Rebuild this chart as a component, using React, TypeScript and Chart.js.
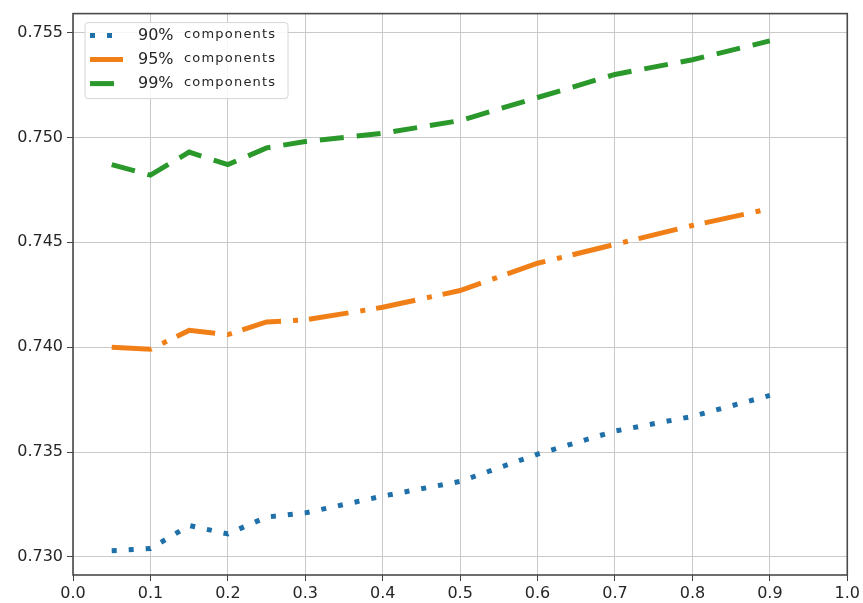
import React, { useEffect, useRef } from "react";
import { Chart, registerables } from "chart.js";

Chart.register(...registerables);

const xValues = [0.05, 0.1, 0.15, 0.2, 0.25, 0.3, 0.4, 0.5, 0.6, 0.7, 0.8, 0.9];
const series90 = [0.7303, 0.7304, 0.7315, 0.7311, 0.7319, 0.7321, 0.7329, 0.7336, 0.7349, 0.736, 0.7367, 0.7377];
const series95 = [0.74, 0.7399, 0.7408, 0.7406, 0.7412, 0.7413, 0.7419, 0.7427, 0.744, 0.7449, 0.7458, 0.7466];
const series99 = [0.7487, 0.7482, 0.7493, 0.7487, 0.7495, 0.7498, 0.7502, 0.7508, 0.7519, 0.753, 0.7537, 0.7546];
const seriesPercents = ["90%", "95%", "99%"];
const legendSuffix = "components";
const xTicks = [0.0, 0.1, 0.2, 0.3, 0.4, 0.5, 0.6, 0.7, 0.8, 0.9, 1.0];
const yTicks = [0.73, 0.735, 0.74, 0.745, 0.75, 0.755];

const COLORS = ["#1f6fa8", "#f07f17", "#2a982a"];
const DASHES = [[5, 12], [40, 12, 5, 11], [24, 13]];
const FONT = "'DejaVu Sans', sans-serif";

const framePlugin = {
  id: "frame",
  afterDraw(chart: any) {
    const { ctx, chartArea: a } = chart;
    ctx.save();
    ctx.strokeStyle = "#4a4a4a";
    ctx.lineWidth = 1.6;
    ctx.setLineDash([]);
    ctx.strokeRect(a.left, a.top, a.right - a.left, a.bottom - a.top);
    ctx.restore();
  },
};

const legendPlugin = {
  id: "customLegend",
  afterDraw(chart: any) {
    const { ctx, chartArea: a } = chart;
    const bx = a.left + 12;
    const by = a.top + 9;
    const bw = 203;
    const bh = 76;
    ctx.save();
    ctx.fillStyle = "rgba(255,255,255,0.85)";
    ctx.strokeStyle = "#d6d6d6";
    ctx.lineWidth = 1;
    ctx.beginPath();
    (ctx as any).roundRect(bx, by, bw, bh, 3);
    ctx.fill();
    ctx.stroke();
    chart.data.datasets.forEach((ds: any, i: number) => {
      const ry = by + 13 + i * 24;
      ctx.strokeStyle = ds.borderColor;
      ctx.lineWidth = 5;
      ctx.lineCap = "butt";
      ctx.setLineDash(ds.borderDash);
      ctx.beginPath();
      ctx.moveTo(bx + 5, ry);
      ctx.lineTo(bx + 38, ry);
      ctx.stroke();
      ctx.setLineDash([]);
      ctx.fillStyle = "#262626";
      ctx.textBaseline = "middle";
      ctx.textAlign = "left";
      ctx.font = `16px ${FONT}`;
      (ctx as any).letterSpacing = "0px";
      ctx.fillText(seriesPercents[i], bx + 53, ry);
      ctx.font = `13px ${FONT}`;
      (ctx as any).letterSpacing = "1.2px";
      ctx.fillText(legendSuffix, bx + 99, ry - 1);
      (ctx as any).letterSpacing = "0px";
    });
    ctx.restore();
  },
};

export default function App() {
  const ref = useRef<HTMLCanvasElement | null>(null);
  useEffect(() => {
    if (!ref.current) return;
    const allSeries = [series90, series95, series99];
    const chart = new Chart(ref.current, {
      type: "line",
      data: {
        datasets: allSeries.map((s, i) => ({
          label: `${seriesPercents[i]} ${legendSuffix}`,
          data: s.map((y, j) => ({ x: xValues[j], y })),
          borderColor: COLORS[i],
          backgroundColor: COLORS[i],
          borderWidth: 5,
          borderDash: DASHES[i],
          borderCapStyle: "butt",
          pointRadius: 0,
          tension: 0,
          fill: false,
        })),
      },
      options: {
        responsive: false,
        maintainAspectRatio: false,
        animation: false,
        layout: { padding: { top: 13, right: 15, left: 0, bottom: 0 } },
        plugins: {
          legend: { display: false },
          tooltip: { enabled: false },
        },
        scales: {
          x: {
            type: "linear",
            min: 0,
            max: 1,
            afterBuildTicks: (s: any) => {
              s.ticks = xTicks.map((v) => ({ value: v }));
            },
            afterFit: (s: any) => {
              s.height = 28;
            },
            border: { display: false },
            grid: { color: "#c9c9c9", lineWidth: 1, tickLength: 6, tickColor: "#444", drawTicks: true },
            ticks: {
              color: "#262626",
              font: { family: FONT, size: 16 },
              padding: 3,
              maxRotation: 0,
              autoSkip: false,
              callback: (v: any) => Number(v).toFixed(1),
            },
          },
          y: {
            type: "linear",
            min: 0.72914,
            max: 0.7559,
            afterBuildTicks: (s: any) => {
              s.ticks = yTicks.map((v) => ({ value: v }));
            },
            afterFit: (s: any) => {
              s.width = 73;
            },
            border: { display: false },
            grid: { color: "#c9c9c9", lineWidth: 1, tickLength: 6, tickColor: "#444", drawTicks: true },
            ticks: {
              color: "#262626",
              font: { family: FONT, size: 16 },
              padding: 4,
              autoSkip: false,
              callback: (v: any) => Number(v).toFixed(3),
            },
          },
        },
      },
      plugins: [framePlugin, legendPlugin],
    } as any);
    return () => chart.destroy();
  }, []);
  return (
    <div style={{ position: "absolute", left: 0, top: 0, width: 863, height: 603, background: "#fff" }}>
      <canvas ref={ref} width={863} height={603} />
    </div>
  );
}
